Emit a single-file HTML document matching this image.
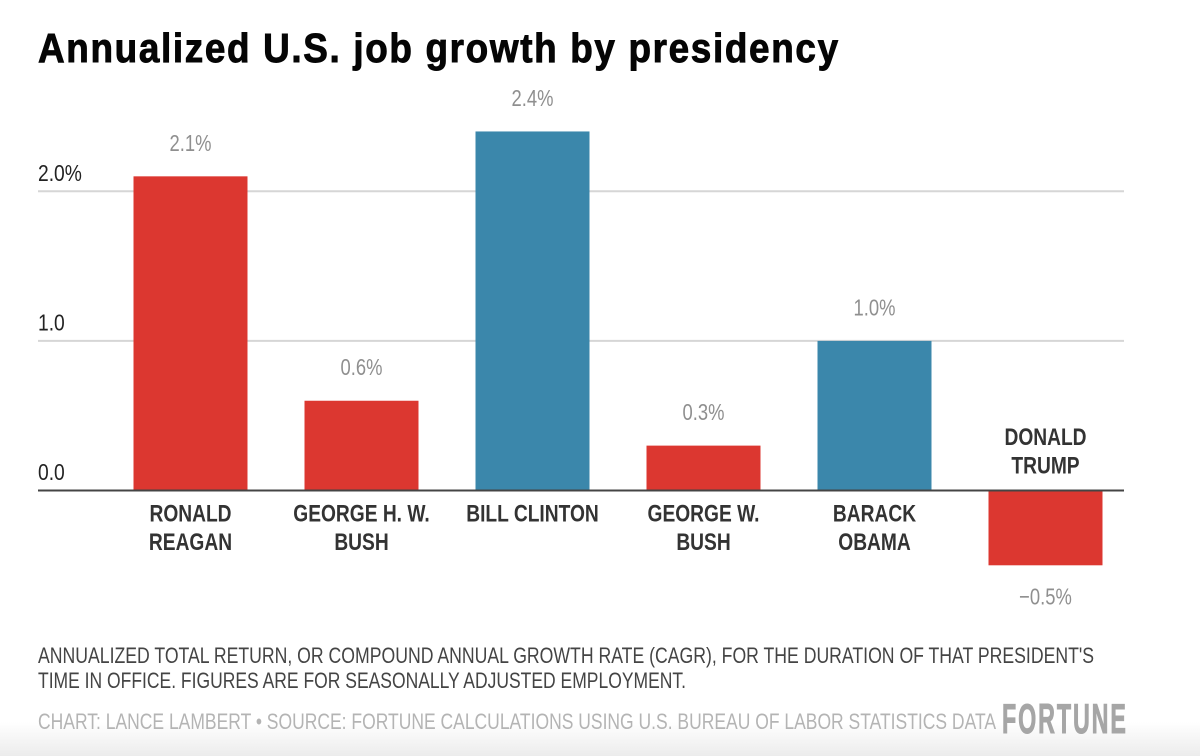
<!DOCTYPE html>
<html lang="en">
<head>
<meta charset="utf-8">
<title>Annualized U.S. job growth by presidency</title>
<style>
html,body{margin:0;padding:0;background:#fff;width:1200px;height:756px;overflow:hidden}
svg{display:block}
text{font-family:"Liberation Sans",sans-serif}
</style>
</head>
<body>
<svg id="chart" width="1200" height="756" viewBox="0 0 1200 756" xmlns="http://www.w3.org/2000/svg">
  <defs>
    <linearGradient id="fade" x1="0" y1="0" x2="0" y2="1">
      <stop offset="0" stop-color="#ffffff"/>
      <stop offset="1" stop-color="#ececec"/>
    </linearGradient>
  </defs>
  <rect x="0" y="0" width="1200" height="756" fill="#fff"/>
  <rect x="0" y="722" width="1200" height="34" fill="url(#fade)"/>
  <text transform="translate(38,62) scale(0.9,1)" font-size="41" font-weight="700" fill="#050505" stroke="#050505" stroke-width="0.9" textLength="889" lengthAdjust="spacing">Annualized U.S. job growth by presidency</text>
  <g id="grid"></g>
  <g id="bars"></g>
  <g id="axis"></g>
  <g id="labels"></g>
  <text x="38" y="663" font-size="22" fill="#444" textLength="1056" lengthAdjust="spacingAndGlyphs">ANNUALIZED TOTAL RETURN, OR COMPOUND ANNUAL GROWTH RATE (CAGR), FOR THE DURATION OF THAT PRESIDENT'S</text>
  <text x="38" y="688" font-size="22" fill="#444" textLength="648" lengthAdjust="spacingAndGlyphs">TIME IN OFFICE. FIGURES ARE FOR SEASONALLY ADJUSTED EMPLOYMENT.</text>
  <text x="38" y="729" font-size="22" fill="#b4b4b4" textLength="958" lengthAdjust="spacingAndGlyphs">CHART: LANCE LAMBERT • SOURCE: FORTUNE CALCULATIONS USING U.S. BUREAU OF LABOR STATISTICS DATA</text>
  <text transform="translate(1002,733) scale(0.555,1)" font-size="42" font-weight="700" fill="#a6a6a6" stroke="#a6a6a6" stroke-width="1" letter-spacing="3.4">FORTUNE</text>
</svg>
<script>
var categories = [["RONALD","REAGAN"],["GEORGE H. W.","BUSH"],["BILL CLINTON"],["GEORGE W.","BUSH"],["BARACK","OBAMA"],["DONALD","TRUMP"]];
var growth = [2.1, 0.6, 2.4, 0.3, 1.0, -0.5];
var party = ["r","r","d","r","d","r"];
var valueLabels = ["2.1%","0.6%","2.4%","0.3%","1.0%","\u22120.5%"];
var yTicks = [2, 1, 0];
var yTickLabels = ["2.0%","1.0","0.0"];

var NS = "http://www.w3.org/2000/svg";
function yScale(v){ return 490.5 - v * 149.6; }
function xCenter(i){ return 190.5 + i * 171; }
var BAR_W = 114;
var partyColor = {r:"#dc3730", d:"#3b87ab"};

function make(tag, parent, attrs){
  var el = document.createElementNS(NS, tag);
  for (var k in attrs) el.setAttribute(k, attrs[k]);
  parent.appendChild(el);
  return el;
}
function label(parent, str, x, y, size, weight, fill, sx, anchor){
  var el = make("text", parent, {
    transform: "translate(" + x + "," + y + ") scale(" + sx + ",1)",
    "font-size": size, "font-weight": weight, fill: fill, "text-anchor": anchor
  });
  el.textContent = str;
  return el;
}

var gridG = document.getElementById("grid");
var barsG = document.getElementById("bars");
var axisG = document.getElementById("axis");
var labelsG = document.getElementById("labels");

yTicks.forEach(function(t, i){
  if (t !== 0) {
    var line = make("line", gridG, {x1:38, x2:1124, y1:yScale(t), y2:yScale(t), stroke:"#d6d6d6", "stroke-width":2});
    
    
  }
  var tick = label(axisG, yTickLabels[i], 38, yScale(t) - 10.5, 23.5, 400, "#222", 0.82, "start");
  
  
});

growth.forEach(function(v, i){
  var top = Math.min(yScale(v), yScale(0));
  var h = Math.abs(yScale(v) - yScale(0));
  var bar = make("rect", barsG, {x:xCenter(i) - BAR_W/2, y:top, width:BAR_W, height:h, fill:partyColor[party[i]]});
  
  

  var valueY = v >= 0 ? yScale(v) - 25.5 : yScale(v) + 39;
  var val = label(labelsG, valueLabels[i], xCenter(i), valueY, 23, 400, "#8f8f8f", 0.8, "middle");
  
  

  var lines = categories[i];
  var firstY = v >= 0 ? yScale(0) + 31 : yScale(0) - 45.5;
  lines.forEach(function(s, j){
    var c = label(labelsG, s, xCenter(i), firstY + j * 28.5, 24, 700, "#333", 0.8, "middle");
    
    
  });
});

var zero = make("line", axisG, {x1:38, x2:1124, y1:yScale(0), y2:yScale(0), stroke:"#444", "stroke-width":2});


</script>
</body>
</html>
